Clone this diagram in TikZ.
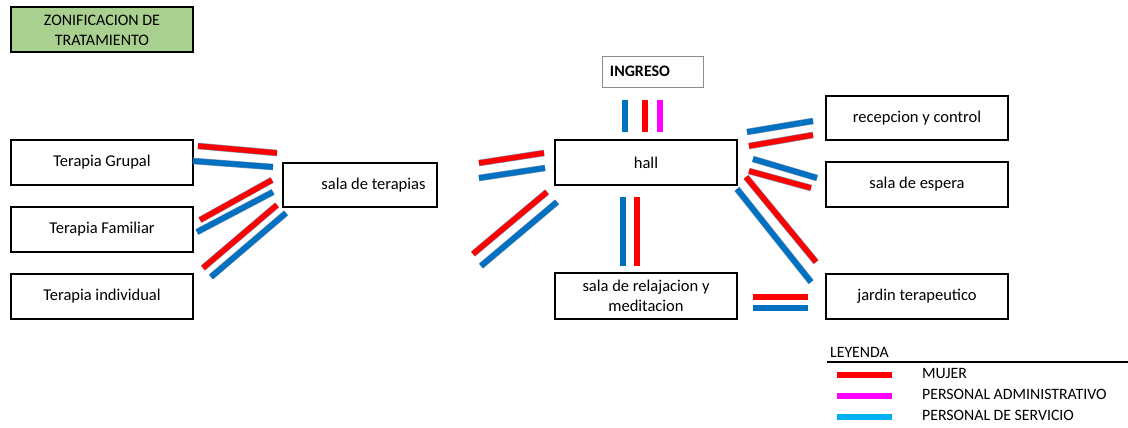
\documentclass[tikz,border=0pt]{standalone}
\usepackage{fontspec}
\setmainfont{Carlito}
\definecolor{zgreen}{HTML}{A9D08E}
\definecolor{bblue}{HTML}{0070C0}
\definecolor{lblue}{HTML}{00B0F0}
\definecolor{bred}{HTML}{FF0000}
\definecolor{bmag}{HTML}{FF00FF}
\definecolor{bedge}{HTML}{4A6A9A}
\tikzset{
  room/.style={draw=black, line width=2pt, minimum width=182pt, minimum height=45pt, inner sep=0pt, align=center, font=\fontsize{16.5}{20}\selectfont},
  title/.style={room, fill=zgreen, font=\fontsize{16}{20}\selectfont},
  ingreso/.style={draw=black!45, line width=0.6pt, minimum width=101pt, minimum height=31pt, inner sep=0pt, font=\bfseries\fontsize{16}{18}\selectfont},
  barout/.style={line width=6.6pt, draw=bedge!70},
  legtxt/.style={anchor=west, inner sep=0pt, font=\fontsize{15.8}{18}\selectfont}
}
\newcommand\pbar[3]{\draw[barout] #2 -- #3; \draw[line width=5.4pt, draw=#1] #2 -- #3;}
\begin{document}
\begin{tikzpicture}[x=1pt, y=-1pt]
\useasboundingbox (0,0) rectangle (1128,428);
% nodes
\node[title] (zt) at (102,30) {ZONIFICACION DE\\TRATAMIENTO};
\node[room] (tg) at (102,162.5) {Terapia Grupal};
\node[room] (tf) at (102,229) {Terapia Familiar};
\node[room] (ti) at (102,296.5) {Terapia individual};
\node[room, minimum width=154pt, minimum height=44pt] (st) at (360,185) {\hspace*{27pt}sala de terapias};
\node[room] (hall) at (646,162.5) {hall};
\node[ingreso] (ing) at (652.5,71.5) {INGRESO\hspace*{25pt}};
\node[room, minimum height=46pt] (sr) at (646,296) {sala de relajacion y\\meditacion};
\node[room, minimum height=44pt] (rc) at (917,118) {recepcion y control};
\node[room] (se) at (917,184.5) {sala de espera};
\node[room] (jt) at (917,296.5) {jardin terapeutico};
% bars left
\pbar{bred}{(198,146)}{(277,153)}
\pbar{bblue}{(193,161)}{(273,167)}
\pbar{bred}{(200,220)}{(272,180)}
\pbar{bblue}{(197,232)}{(273,192)}
\pbar{bred}{(203,268)}{(277,205)}
\pbar{bblue}{(211,277)}{(286,213)}
% bars center
\pbar{bred}{(479,163)}{(544,153)}
\pbar{bblue}{(479,178)}{(545,168)}
\pbar{bred}{(473,254)}{(547,192)}
\pbar{bblue}{(481,266)}{(557,202)}
% ingreso
\pbar{bblue}{(625,100)}{(625,132)}
\pbar{bred}{(645,100)}{(645,132)}
\pbar{bmag}{(660,100)}{(660,132)}
% hall down
\pbar{bblue}{(623,197)}{(623,266)}
\pbar{bred}{(637,197)}{(637,266)}
% right
\pbar{bblue}{(747,132)}{(813,121)}
\pbar{bred}{(749,146)}{(813,135)}
\pbar{bblue}{(753,159)}{(817,178)}
\pbar{bred}{(749,171)}{(811,188)}
\pbar{bred}{(746,177)}{(816,262)}
\pbar{bblue}{(737,189)}{(811,282)}
\pbar{bred}{(753,297)}{(808,297)}
\pbar{bblue}{(753,308)}{(808,308)}
% legend
\node[legtxt] (ley) at (830,352) {LEYENDA};
\coordinate (lineL) at (827,362);
\coordinate (lineR) at (1128,362);
\draw[line width=1.5pt] (lineL) -- (lineR);
\pbar{bred}{(837,375)}{(892,375)}
\pbar{bmag}{(837,396)}{(892,396)}
\pbar{lblue}{(837,417)}{(892,417)}
\node[legtxt] (l1) at (922,373) {MUJER};
\node[legtxt] (l2) at (922,394) {PERSONAL ADMINISTRATIVO};
\node[legtxt] (l3) at (922,415) {PERSONAL DE SERVICIO};
\end{tikzpicture}
\end{document}
